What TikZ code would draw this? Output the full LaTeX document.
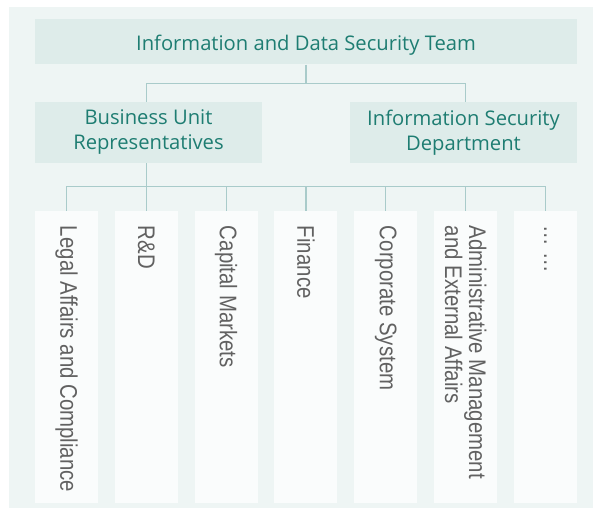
\documentclass[tikz,border=0pt]{standalone}
\usepackage{fontspec}
\setmainfont{Open Sans}
\newfontfamily\colfont[FakeStretch=0.85]{Liberation Sans}
\usetikzlibrary{positioning, calc}

\definecolor{panelbg}{HTML}{EEF5F4}
\definecolor{headfill}{HTML}{DEECEA}
\definecolor{headtext}{HTML}{1E7D72}
\definecolor{colfill}{HTML}{FAFCFC}
\definecolor{coltext}{HTML}{616161}
\definecolor{linecol}{HTML}{A9CBCA}

\begin{document}
\begin{tikzpicture}[
        x=1pt, y=-1pt,
        every node/.style={inner sep=0pt},
        headbox/.style={fill=headfill, text=headtext, align=center, font=\fontsize{20.2}{25}\selectfont,
            execute at begin node={\rule{0pt}{22pt}}},
        unitbox/.style={headbox, minimum width=227pt, minimum height=61pt},
        colbox/.style={fill=colfill, minimum width=63pt, minimum height=292pt},
        coltxt/.style={rotate=-90, anchor=west, align=left, text=coltext, font=\colfont\fontsize{24}{24}\selectfont},
        link/.style={draw=linecol, line width=1.2pt}
        ]
        \useasboundingbox (0,0) rectangle (594,510);
        \fill[panelbg] (9,7) rectangle (593,508);

        \node[headbox, minimum width=542pt, minimum height=45pt] (team) at (306,42) {Information and Data Security Team};
        \node[unitbox] (units) at (148.5,132.5) {Business Unit\\Representatives};
        \node[unitbox] (secdept) at (463.5,132.5) {Information Security\\Department};

        % departments
        \foreach \txt [count=\i] in {Legal Affairs and Compliance, R\&D, Capital Markets, Finance,
            Corporate System, Administrative Management\\and External Affairs, … …} {
            \node[colbox] (dept\i) at ({66.5+(\i-1)*79.83},357) {};
            \node[coltxt] (label\i) at ([yshift=-15pt]dept\i.north) {\txt};
        }

        \coordinate (split) at ([yshift=-18.5pt]team.south);
        \coordinate (bus) at ([yshift=-23pt]units.south);

        \draw[link] (team.south) -- (split);
        \draw[link] (units.north -| dept2.north) |- (split) -| (secdept.north -| dept6.north);
        \draw[link] (units.south -| dept2.north) -- (dept2.north);
        \draw[link] (dept1.north) |- (bus) -| (dept7.north);
        \foreach \i in {3,...,6}
            \draw[link] (dept\i.north) -- (dept\i.north |- bus);
    \end{tikzpicture}
\end{document}
